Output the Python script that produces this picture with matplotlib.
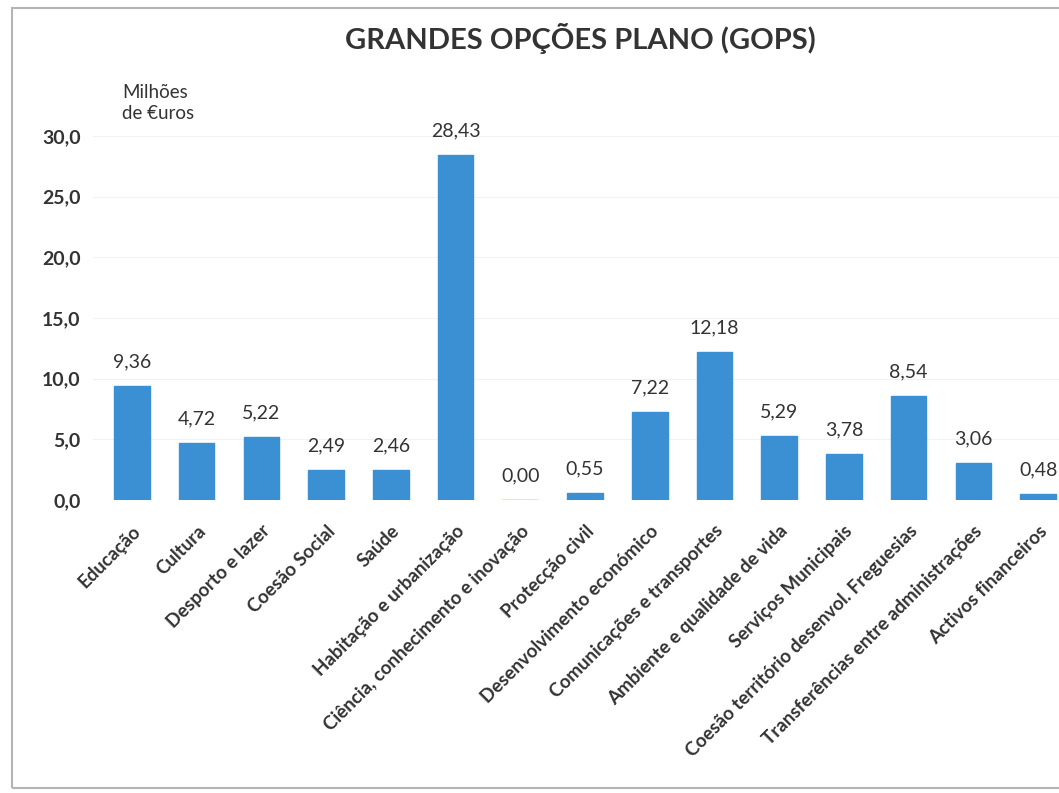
import matplotlib
matplotlib.use('Agg')
import matplotlib.pyplot as plt
from matplotlib.patches import Rectangle

categories = ['Educação', 'Cultura', 'Desporto e lazer', 'Coesão Social', 'Saúde',
              'Habitação e urbanização', 'Ciência, conhecimento e inovação', 'Protecção civil',
              'Desenvolvimento económico', 'Comunicações e transportes',
              'Ambiente e qualidade de vida', 'Serviços Municipais',
              'Coesão território desenvol. Freguesias', 'Transferências entre administrações',
              'Activos financeiros']
values = [9.36, 4.72, 5.22, 2.49, 2.46, 28.43, 0.00, 0.55, 7.22, 12.18, 5.29, 3.78, 8.54, 3.06, 0.48]
y_ticks = [0, 5, 10, 15, 20, 25, 30]

plt.rcParams['font.family'] = ['Lato', 'DejaVu Sans']
text_color = '#333333'
bar_color = '#3b8fd3'

W, H = 1059, 793
fig = plt.figure(figsize=(W / 100, H / 100), dpi=100)
fig.patch.set_facecolor('white')

# outer chart frame (right side is cut off in the original)
fig.patches.append(Rectangle((12 / W, 1 - 788 / H), (1075 - 12) / W, (788 - 8) / H,
                             transform=fig.transFigure, fill=False,
                             edgecolor='#b5b5b5', linewidth=1.5))

ax = fig.add_axes([93 / W, 1 - 500 / H, (1077 - 93) / W, (500 - 136) / H])
x = list(range(len(categories)))
ax.bar(x, values, width=0.55, color=bar_color, edgecolor=bar_color, linewidth=1.0)
ax.set_xlim(-0.6, 14.6)
ax.set_ylim(0, 30)

for xi, v in zip(x, values):
    ax.text(xi, v + 1.3, ('%.2f' % v).replace('.', ','), ha='center', va='bottom',
            fontsize=14, color=text_color, clip_on=False)

ax.set_yticks(y_ticks)
ax.set_yticklabels([('%.1f' % t).replace('.', ',') for t in y_ticks],
                   fontsize=14, fontweight='bold', color=text_color)
ax.set_xticks(x)
ax.set_xticklabels(categories, rotation=45, ha='right', va='top',
                   rotation_mode='anchor', fontsize=13.5, fontweight='bold', color=text_color)
ax.tick_params(axis='both', length=0)
ax.tick_params(axis='y', pad=9)
ax.tick_params(axis='x', pad=16)
for s in ax.spines.values():
    s.set_visible(False)
ax.grid(axis='y', color='#f2f2f2', linewidth=0.8)
ax.set_axisbelow(True)

fig.text(580 / W, 1 - 38 / H, 'GRANDES OPÇÕES PLANO (GOPS)', ha='center', va='center',
         fontsize=21, fontweight='bold', color=text_color)
fig.text(122 / W, 1 - 84 / H, 'Milhões\nde €uros', ha='left', va='top',
         fontsize=13.5, color=text_color, linespacing=1.3)

fig.savefig('out.png', dpi=100)
